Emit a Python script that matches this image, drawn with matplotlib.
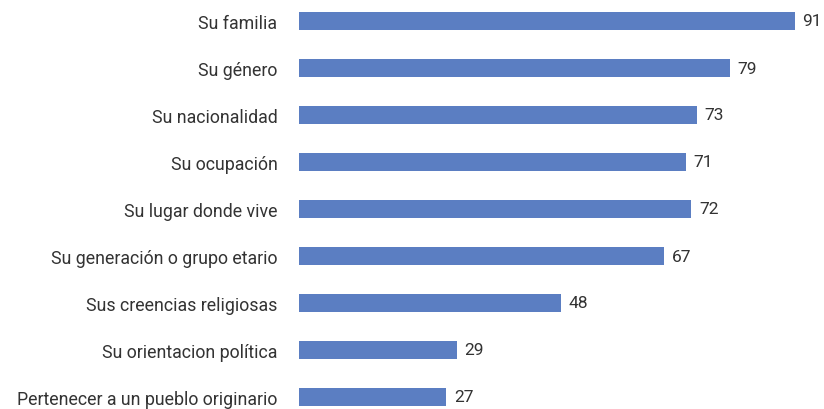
import matplotlib.pyplot as plt

categories = ["Su familia", "Su género", "Su nacionalidad", "Su ocupación",
              "Su lugar donde vive", "Su generación o grupo etario",
              "Sus creencias religiosas", "Su orientacion política",
              "Pertenecer a un pueblo originario"]
values = [91, 79, 73, 71, 72, 67, 48, 29, 27]

plt.rcParams['font.family'] = ['Roboto', 'DejaVu Sans']

fig = plt.figure(figsize=(8.24, 4.10), dpi=100)
ax = fig.add_axes([299/824, 0, 521/824, 1])
y = list(range(len(categories)))
ax.barh(y, values, height=0.38, color="#5B7EC2")
for yi, v in zip(y, values):
    ax.text(v + 1.4, yi, str(v), va="center", ha="left", fontsize=12.5, color="#333333")

ax.set_xlim(0, 521/5.45)
ax.set_ylim(8 + 12/47, -22/47)
ax.set_yticks(y)
ax.set_yticklabels(categories, fontsize=12.8, color="#333333")
ax.tick_params(axis="y", length=0, pad=15.5)
ax.set_xticks([])
for s in ax.spines.values():
    s.set_visible(False)

fig.savefig("out.png", dpi=100)
